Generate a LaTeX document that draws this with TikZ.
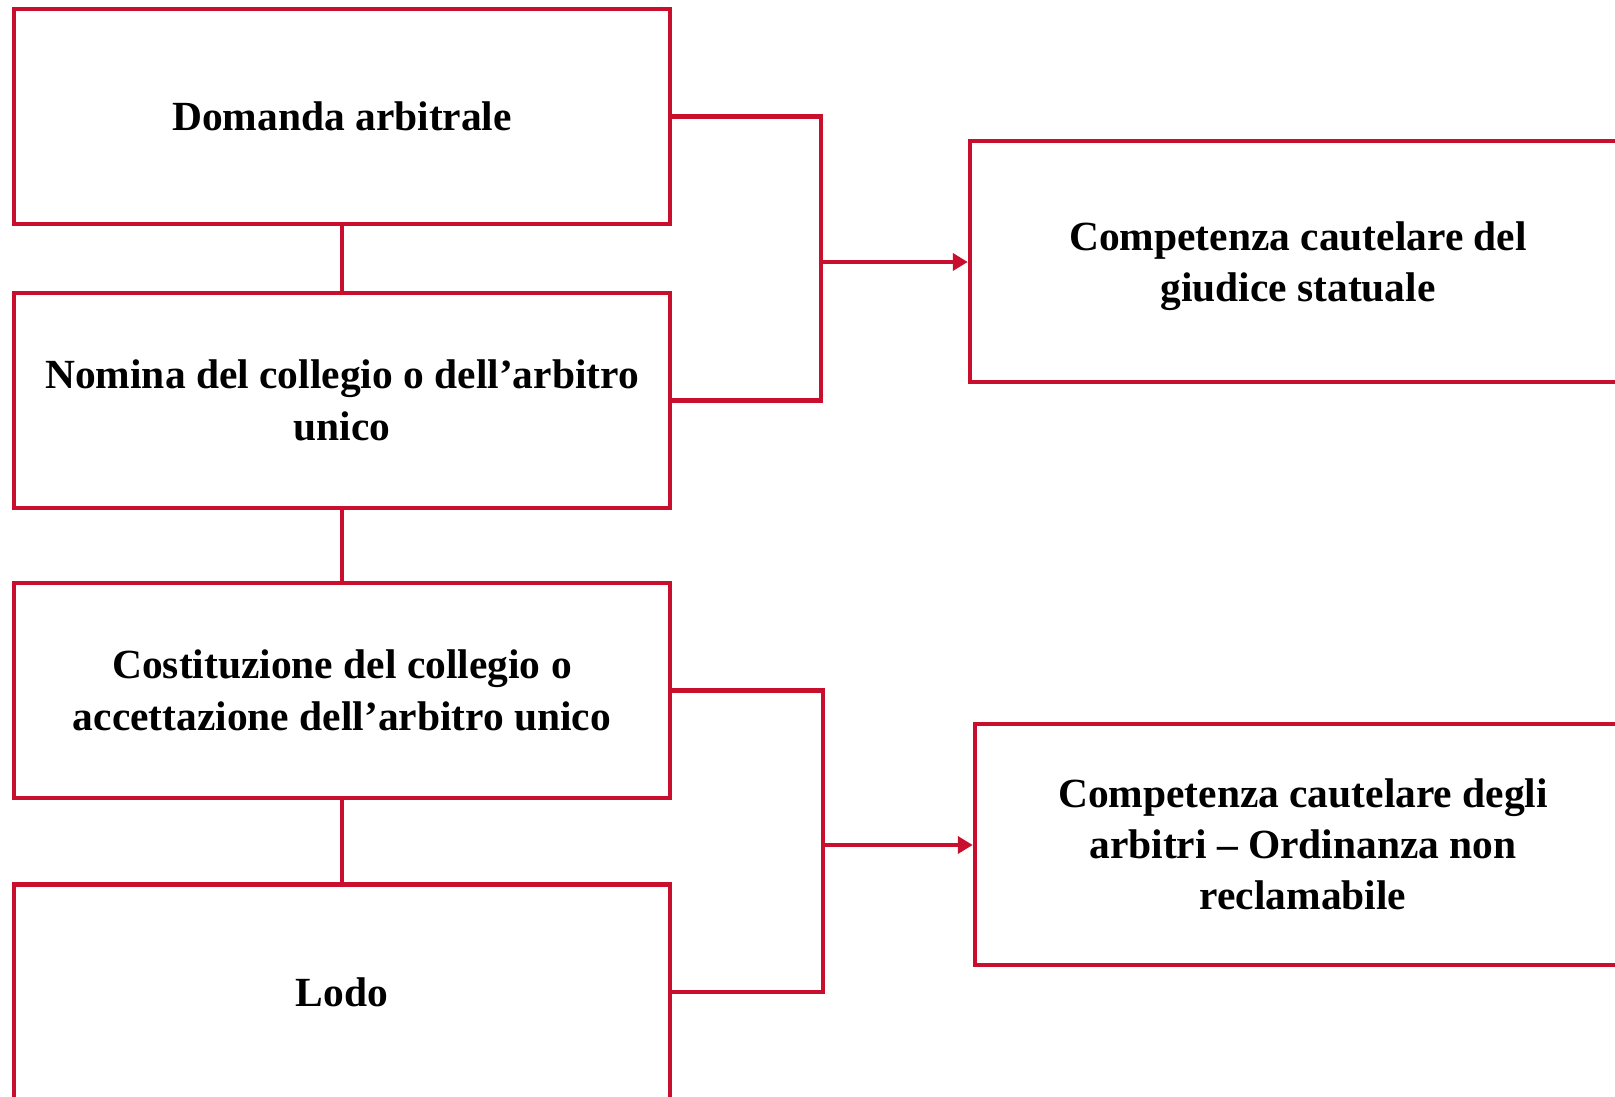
\documentclass[tikz,border=0pt]{standalone}
\usepackage{fontspec}
\setmainfont{Liberation Serif}
\usepackage{xcolor}
\usetikzlibrary{positioning,arrows.meta}
\definecolor{rossoarb}{RGB}{200,16,46}

\begin{document}
\begin{tikzpicture}[x=0.1mm, y=-0.1mm,
    fase/.style={rectangle, draw=rossoarb, line width=0.45mm, fill=white, minimum width=65.6mm, minimum height=21.5mm, align=center, font=\fontsize{11.8}{14.6}\selectfont\bfseries},
    tutela/.style={fase, minimum width=65.6mm, minimum height=24.1mm},
    link/.style={draw=rossoarb, line width=0.45mm}]
      \clip (0,0) rectangle (1615,1097);
      \fill[white] (0,0) rectangle (1615,1097);
      \node (dom) [fase] at (342,116.5) {Domanda arbitrale};
      \node (nom) [fase] at (342,400.5) {Nomina del collegio o dell’arbitro\\unico};
      \node (cost) [fase] at (342,690.5) {Costituzione del collegio o\\accettazione dell’arbitro unico};
      \node (lodo) [fase] at (342,992) {Lodo};
      \node (giud) [tutela, text depth=0pt] at (1298,261.5) {Competenza cautelare del\\giudice statuale};
      \node (arb) [tutela] at (1303,844.5) {Competenza cautelare degli\\arbitri -- Ordinanza non\\reclamabile};
      % giunzioni delle parentesi
      \coordinate (j1) at (821,262);
      \coordinate (j2) at (823,845);
      \draw[link] (dom) -- (nom);
      \draw[link] (nom) -- (cost);
      \draw[link] (cost) -- (lodo);
      \draw[link] (dom.east) -| (j1) |- (nom.east);
      \draw[link] (cost.east) -| (j2) |- (lodo.east);
      \draw[link, -{Triangle[length=1.5mm, width=1.7mm]}] (j1) -- (giud.west |- j1);
      \draw[link, -{Triangle[length=1.5mm, width=1.7mm]}] (j2) -- (arb.west |- j2);
  \end{tikzpicture}
\end{document}
